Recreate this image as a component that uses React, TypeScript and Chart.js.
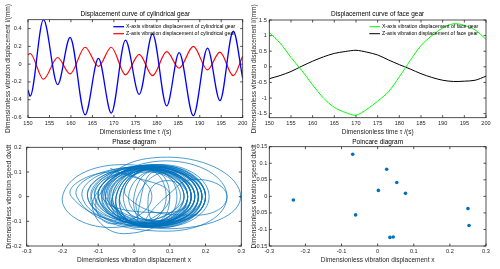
import React, { useEffect, useRef } from "react";
import { Chart, registerables } from "chart.js";

Chart.register(...registerables);

// ---------- data ----------
const cylTimes = [150, 150.5, 153.6, 156.9, 159.8, 163.3, 166.4, 169.4, 172.7, 175.9, 179.0, 182.3, 185.2, 188.5, 191.8, 194.7, 197.8, 200];
const cylX = [-0.29, -0.36, 0.5, -0.23, 0.3, -0.57, 0.064, -0.55, 0.27, -0.34, 0.34, -0.47, 0.13, -0.58, 0.18, -0.41, 0.37, -0.16];
const cylZ = [0.105, 0.12, -0.17, 0.075, -0.11, 0.19, -0.026, 0.19, -0.12, 0.11, -0.13, 0.14, -0.045, 0.2, -0.064, 0.135, -0.13, 0.09];

const faceTimes = [150, 152.5, 155, 157.5, 160, 162.5, 165, 167.5, 170, 172.5, 175, 177.5, 180, 182.5, 185, 187.5, 190, 192.5, 195, 197.5, 200];
const faceX = [1.1, 0.76, 0.3, -0.12, -0.58, -1.0, -1.3, -1.46, -1.55, -1.36, -1.1, -0.8, -0.32, 0.2, 0.68, 1.0, 1.24, 1.38, 1.33, 1.18, 0.88];
const faceZ = [-0.38, -0.28, -0.15, 0.02, 0.18, 0.32, 0.43, 0.49, 0.53, 0.47, 0.38, 0.22, 0.07, -0.07, -0.22, -0.34, -0.43, -0.47, -0.46, -0.43, -0.3];

// phase-plane loops: left / right extremes of x, top / bottom extremes of dx/dt
const phaseLeft = [-0.233, -0.2, -0.11, -0.08, -0.16, -0.12, -0.09, -0.1, -0.08, -0.06, -0.11, -0.05, -0.07, 0.09, -0.02, 0.0, -0.04, 0.04, -0.09, -0.13, -0.06, -0.03, -0.1, -0.145, -0.05, 0.01, -0.08, -0.07, -0.12, -0.04, -0.175, -0.1, -0.09, -0.06, -0.11, -0.04, -0.075, -0.1, -0.05, -0.085, -0.065, -0.13, 0.02, -0.015];
const phaseRight = [0.1, 0.14, 0.298, 0.26, 0.17, 0.19, 0.2, 0.17, 0.18, 0.19, 0.15, 0.16, 0.14, 0.26, 0.09, 0.12, 0.2, 0.15, 0.16, 0.14, 0.21, 0.18, 0.19, 0.16, 0.13, 0.2, 0.15, 0.18, 0.17, 0.15, 0.05, 0.2, 0.17, 0.15, 0.18, 0.17, 0.19, 0.16, 0.18, 0.2, 0.16, 0.19, 0.1, 0.16];
const phaseTop = [0.115, 0.13, 0.16, 0.145, 0.12, 0.125, 0.13, 0.115, 0.12, 0.125, 0.11, 0.115, 0.105, 0.07, 0.11, 0.105, 0.125, 0.065, 0.12, 0.115, 0.13, 0.12, 0.12, 0.12, 0.1, 0.1, 0.11, 0.12, 0.12, 0.11, 0.1, 0.125, 0.115, 0.11, 0.125, 0.115, 0.125, 0.115, 0.12, 0.13, 0.11, 0.125, 0.1, 0.11];
const phaseBottom = [-0.125, -0.15, -0.13, -0.14, -0.12, -0.115, -0.12, -0.11, -0.105, -0.12, -0.11, -0.1, -0.1, -0.075, -0.105, -0.1, -0.125, -0.065, -0.12, -0.115, -0.125, -0.11, -0.12, -0.125, -0.095, -0.1, -0.11, -0.115, -0.12, -0.11, -0.11, -0.12, -0.115, -0.105, -0.125, -0.11, -0.12, -0.12, -0.115, -0.125, -0.11, -0.125, -0.1, -0.105];

const poincareX = [-0.2335, -0.069, -0.061, 0.002, 0.025, 0.034, 0.043, 0.053, 0.077, 0.25, 0.253];
const poincareV = [-0.011, 0.127, -0.056, 0.018, 0.082, -0.124, -0.123, 0.042, 0.009, -0.037, -0.088];

const timeTicks = [150, 155, 160, 165, 170, 175, 180, 185, 190, 195, 200];
const cylTicks = [-0.6, -0.4, -0.2, 0, 0.2, 0.4];
const faceTicks = [-1.5, -1, -0.5, 0, 0.5, 1, 1.5];
const dispTicks = [-0.3, -0.2, -0.1, 0, 0.1, 0.2, 0.3];
const phaseVTicks = [-0.2, -0.1, 0, 0.1, 0.2];
const poincareVTicks = [-0.15, -0.1, -0.05, 0, 0.05, 0.1, 0.15];

// ---------- helpers ----------
const FONT = '"Liberation Sans", Arial, Helvetica, sans-serif';
const AXIS_COLOR = "#262626";

const framePlugin = {
  id: "matlabFrame",
  afterDatasetsDraw(chart: any) {
    const { ctx, chartArea: a, scales } = chart;
    ctx.save();
    ctx.strokeStyle = AXIS_COLOR;
    ctx.lineWidth = 0.8;
    ctx.strokeRect(a.left, a.top, a.right - a.left, a.bottom - a.top);
    const tl = 2.5;
    ctx.beginPath();
    scales.x.ticks.forEach((t: any) => {
      const px = scales.x.getPixelForValue(t.value);
      ctx.moveTo(px, a.bottom);
      ctx.lineTo(px, a.bottom - tl);
      ctx.moveTo(px, a.top);
      ctx.lineTo(px, a.top + tl);
    });
    scales.y.ticks.forEach((t: any) => {
      const py = scales.y.getPixelForValue(t.value);
      ctx.moveTo(a.left, py);
      ctx.lineTo(a.left + tl, py);
      ctx.moveTo(a.right, py);
      ctx.lineTo(a.right - tl, py);
    });
    ctx.stroke();
    ctx.restore();
  },
};

const legendPlugin = {
  id: "insideLegend",
  afterDraw(chart: any, _args: any, opts: any) {
    if (!opts || !opts.show) return;
    const { ctx } = chart;
    ctx.save();
    ctx.font = `${opts.size}px ${FONT}`;
    ctx.textBaseline = "middle";
    ctx.textAlign = "left";
    chart.data.datasets.forEach((ds: any, i: number) => {
      const y = opts.y + i * opts.rowH;
      ctx.strokeStyle = ds.borderColor;
      ctx.lineWidth = ds.borderWidth;
      ctx.beginPath();
      ctx.moveTo(opts.x, y);
      ctx.lineTo(opts.x + opts.len, y);
      ctx.stroke();
      ctx.fillStyle = "#000";
      ctx.fillText(ds.label, opts.x + opts.len + opts.gap, y);
    });
    ctx.restore();
  },
};

const fmt = (v: number) => String(Number(v.toFixed(3)));

function axis(
  horizontal: boolean,
  min: number,
  max: number,
  ticks: number[],
  fit: number,
  tickPad: number,
  title: string,
  titlePad: number
) {
  return {
    type: "linear",
    min,
    max,
    grid: { display: false, drawTicks: false },
    border: { display: false },
    afterBuildTicks: (s: any) => {
      s.ticks = ticks.map((value) => ({ value }));
    },
    afterFit: (s: any) => {
      if (horizontal) s.height = fit;
      else s.width = fit;
    },
    ticks: {
      autoSkip: false,
      maxRotation: 0,
      minRotation: 0,
      padding: tickPad,
      color: AXIS_COLOR,
      font: { family: FONT, size: 5.6 },
      callback: (v: any) => fmt(Number(v)),
    },
    title: {
      display: true,
      text: title,
      color: AXIS_COLOR,
      font: { family: FONT, size: 6.5 },
      padding: horizontal ? { top: 0, bottom: titlePad } : { top: titlePad, bottom: 0 },
    },
  };
}

function baseOptions(p: any) {
  return {
    responsive: false,
    animation: false,
    devicePixelRatio: 1,
    layout: { padding: { left: 0, top: 0, right: p.rightPad, bottom: 0 } },
    plugins: {
      legend: { display: false },
      tooltip: { enabled: false },
      title: {
        display: true,
        fullSize: false,
        text: p.title,
        color: "#000",
        font: { family: FONT, size: 6.5, weight: "normal" },
        padding: { top: p.titleTop, bottom: p.titleBottom },
      },
      insideLegend: p.legend || { show: false },
    },
    scales: {
      x: axis(true, p.xMin, p.xMax, p.xTicks, p.xFit, p.xTickPad, p.xTitle, p.xTitlePad),
      y: axis(false, p.yMin, p.yMax, p.yTicks, p.yFit, p.yTickPad, p.yTitle, p.yTitlePad),
    },
  };
}

const pts = (xs: number[], ys: number[]) => xs.map((x, i) => ({ x, y: ys[i] }));

function phasePoints() {
  const out: { x: number; y: number }[] = [];
  phaseLeft.forEach((l, i) => {
    const r = phaseRight[i];
    const c = (l + r) / 2;
    if (i > 0) out.push({ x: l, y: 0 });
    out.push({ x: c, y: phaseTop[i] });
    out.push({ x: r, y: 0 });
    out.push({ x: c, y: phaseBottom[i] });
  });
  return out;
}

function cylConfig() {
  return {
    type: "line",
    data: {
      datasets: [
        {
          label: "X-axis vibration displacement of cylindrical gear",
          data: pts(cylTimes, cylX),
          borderColor: "#0000ff",
          borderWidth: 1.3,
          pointRadius: 0,
          cubicInterpolationMode: "monotone",
        },
        {
          label: "Z-axis vibration displacement of cylindrical gear",
          data: pts(cylTimes, cylZ),
          borderColor: "#ff0000",
          borderWidth: 1.2,
          pointRadius: 0,
          cubicInterpolationMode: "monotone",
        },
      ],
    },
    options: baseOptions({
      rightPad: 7.3,
      title: "Displacement curve of cylindrical gear",
      titleTop: 10.4,
      titleBottom: 1.5,
      xMin: 150, xMax: 200, xTicks: timeTicks, xFit: 22.5, xTickPad: 2.3,
      xTitle: "Dimensionless time \u03c4 /(s)", xTitlePad: 3.8,
      yMin: -0.6, yMax: 0.5, yTicks: cylTicks, yFit: 28, yTickPad: 6.5,
      yTitle: "Dimensionless vibration displacement l/(mm)", yTitlePad: 4.8,
      legend: { show: true, x: 113.3, y: 26.7, rowH: 7, len: 10.7, gap: 2, size: 5.2 },
    }),
    plugins: [framePlugin, legendPlugin],
  };
}

function faceConfig() {
  return {
    type: "line",
    data: {
      datasets: [
        {
          label: "X-axis vibration displacement of face gear",
          data: pts(faceTimes, faceX),
          borderColor: "#00ff00",
          borderWidth: 1,
          pointRadius: 0,
          tension: 0.3,
        },
        {
          label: "Z-axis vibration displacement of face gear",
          data: pts(faceTimes, faceZ),
          borderColor: "#000000",
          borderWidth: 1,
          pointRadius: 0,
          tension: 0.3,
        },
      ],
    },
    options: baseOptions({
      rightPad: 14,
      title: "Displacement curve of face gear",
      titleTop: 10.4,
      titleBottom: 1.8,
      xMin: 150, xMax: 200, xTicks: timeTicks, xFit: 22.3, xTickPad: 2.3,
      xTitle: "Dimensionless time \u03c4 /(s)", xTitlePad: 3.8,
      yMin: -1.63, yMax: 1.5, yTicks: faceTicks, yFit: 19.3, yTickPad: 2.5,
      yTitle: "Dimensionless vibration displacement l/(mm)", yTitlePad: 0,
      legend: { show: true, x: 119.3, y: 26.7, rowH: 7, len: 10.7, gap: 2, size: 5.2 },
    }),
    plugins: [framePlugin, legendPlugin],
  };
}

function phaseConfig() {
  return {
    type: "scatter",
    data: {
      datasets: [
        {
          label: "Phase",
          data: phasePoints(),
          showLine: true,
          borderColor: "#0072bd",
          borderWidth: 0.7,
          pointRadius: 0,
          tension: 0.55,
        },
      ],
    },
    options: baseOptions({
      rightPad: 8.7,
      title: "Phase diagram",
      titleTop: 9.1,
      titleBottom: 1.4,
      xMin: -0.3, xMax: 0.3, xTicks: dispTicks, xFit: 23, xTickPad: 2.3,
      xTitle: "Dimensionless vibration displacement x", xTitlePad: 5.1,
      yMin: -0.2, yMax: 0.2, yTicks: phaseVTicks, yFit: 26.7, yTickPad: 5,
      yTitle: "Dimensionless vibration speed dx/dt", yTitlePad: 5.6,
    }),
    plugins: [framePlugin],
  };
}

function poincareConfig() {
  return {
    type: "scatter",
    data: {
      datasets: [
        {
          label: "Poincare",
          data: pts(poincareX, poincareV),
          showLine: false,
          backgroundColor: "#0072bd",
          borderColor: "#0072bd",
          borderWidth: 0,
          pointRadius: 1.8,
          pointStyle: "circle",
        },
      ],
    },
    options: baseOptions({
      rightPad: 14,
      title: "Poincare diagram",
      titleTop: 9.1,
      titleBottom: 0.8,
      xMin: -0.3, xMax: 0.3, xTicks: dispTicks, xFit: 23, xTickPad: 2.3,
      xTitle: "Dimensionless vibration displacement x", xTitlePad: 5.1,
      yMin: -0.15, yMax: 0.15, yTicks: poincareVTicks, yFit: 19.3, yTickPad: 2,
      yTitle: "Dimensionless vibration speed dx/dt", yTitlePad: 0,
    }),
    plugins: [framePlugin],
  };
}

function Panel(props: { left: number; top: number; make: () => any }) {
  const ref = useRef<HTMLCanvasElement | null>(null);
  useEffect(() => {
    if (!ref.current) return;
    const chart = new Chart(ref.current, props.make());
    return () => chart.destroy();
  }, []);
  return (
    <canvas
      ref={ref}
      width={250}
      height={140}
      style={{ position: "absolute", left: props.left, top: props.top, width: 250, height: 140 }}
    />
  );
}

export default function App() {
  useEffect(() => {
    document.body.style.margin = "0";
  }, []);
  return (
    <div style={{ position: "fixed", left: 0, top: 0, width: 500, height: 269, background: "#fff", overflow: "hidden" }}>
      <Panel left={0} top={0} make={cylConfig} />
      <Panel left={250} top={0} make={faceConfig} />
      <Panel left={0} top={129} make={phaseConfig} />
      <Panel left={250} top={129} make={poincareConfig} />
    </div>
  );
}
